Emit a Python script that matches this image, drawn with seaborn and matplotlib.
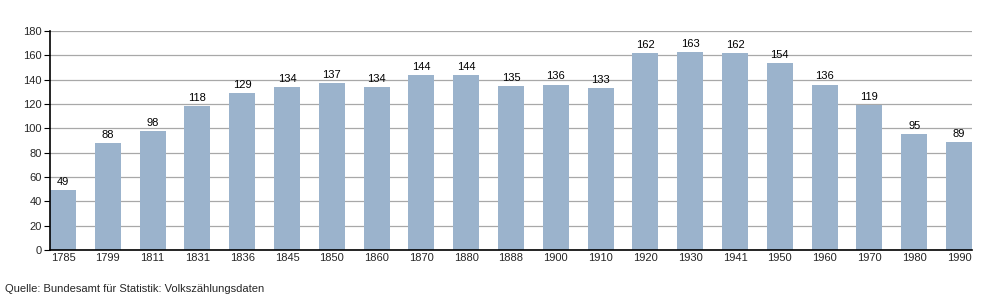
import matplotlib
matplotlib.use("Agg")
import matplotlib.pyplot as plt
import seaborn as sns
import pandas as pd

years = ["1785", "1799", "1811", "1831", "1836", "1845", "1850", "1860", "1870", "1880",
         "1888", "1900", "1910", "1920", "1930", "1941", "1950", "1960", "1970", "1980", "1990"]
values = [49, 88, 98, 118, 129, 134, 137, 134, 144, 144,
          135, 136, 133, 162, 163, 162, 154, 136, 119, 95, 89]
source = "Quelle: Bundesamt für Statistik: Volkszählungsdaten"

sns.set_theme(style="white")
plt.rcParams['font.family'] = ['Liberation Sans', 'DejaVu Sans']

df = pd.DataFrame({"Jahr": years, "Einwohner": values})

fig = plt.figure(figsize=(10, 3), dpi=100)
ax = fig.add_axes([0.05, 0.1667, 0.922, 0.73])

width = 0.58
sns.barplot(data=df, x="Jahr", y="Einwohner", color="#9bb3cc", saturation=1,
            width=width, ax=ax, linewidth=0, edgecolor="none", zorder=3)

ax.set_ylim(0, 180)
ax.set_yticks(range(0, 181, 20))
ax.set_xlim(-width / 2, len(years) - 1 + width / 2)
ax.yaxis.grid(True, color="#a8a8a8", linewidth=0.9, zorder=0)
ax.set_axisbelow(True)
ax.set_xlabel("")
ax.set_ylabel("")

for s in ["top", "right"]:
    ax.spines[s].set_visible(False)
for s in ["left", "bottom"]:
    ax.spines[s].set_color("black")
    ax.spines[s].set_linewidth(1.2)
    ax.spines[s].set_zorder(5)

ax.tick_params(axis="y", which="both", left=True, length=4, width=0.8, color="black",
               labelsize=8, pad=2)
ax.tick_params(axis="x", bottom=False, length=0, labelsize=8, pad=2)

for i, v in enumerate(values):
    ax.text(i, v + 2.5, str(v), ha="center", va="bottom", fontsize=8, color="black")

fig.text(0.005, 0.037, source, fontsize=8, ha="left", va="center")

fig.savefig("out.png", dpi=100)
